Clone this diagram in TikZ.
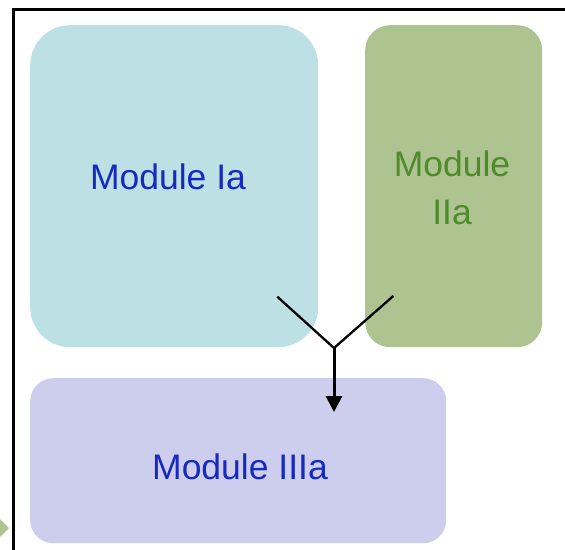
\documentclass[tikz,border=0pt]{standalone}
\usepackage{fontspec}
\setmainfont{Liberation Sans}
\usetikzlibrary{arrows.meta}
\definecolor{boxteal}{RGB}{188,224,227}
\definecolor{boxgreen}{RGB}{173,196,144}
\definecolor{boxlav}{RGB}{205,206,237}
\definecolor{textblue}{RGB}{22,42,192}
\definecolor{textgreen}{RGB}{79,138,43}

\begin{document}
\begin{tikzpicture}[x=1pt,y=-1pt,
    modbox/.style={rectangle,inner sep=0pt,anchor=north west},
    modtext/.style={font=\fontsize{35.5}{48}\selectfont,align=center,inner sep=0pt}]
    \useasboundingbox (0,0) rectangle (565,549);
    \clip (0,0) rectangle (565,549);
    % frame and marker
    \draw[line width=3.4pt] (13.5,560)--(13.5,9.7)--(580,9.7);
    \fill[boxgreen] (-2,517)--(9,528)--(-2,539)--cycle;
    % module boxes
    \node[modbox,fill=boxteal,rounded corners=40pt,minimum width=288pt,minimum height=322pt] (Ia) at (30,25) {};
    \node[modbox,fill=boxgreen,rounded corners=25pt,minimum width=177pt,minimum height=322pt] (IIa) at (365,25) {};
    \node[modbox,fill=boxlav,rounded corners=23pt,minimum width=416pt,minimum height=165pt] (IIIa) at (30,378) {};
    \node[modtext,text=textblue] (tIa) at (168,177) {Module Ia};
    \node[modtext,text=textgreen] (tIIa) at (452,188) {Module\\IIa};
    \node[modtext,text=textblue] (tIIIa) at (240,467) {Module IIIa};
    % merge connector
    \coordinate (ja) at (277.3,296.7);
    \coordinate (jb) at (393.3,296);
    \coordinate (jm) at (334,348);
    \coordinate (tip) at (334,412);
    \draw[line width=2.3pt] (ja)--(jm)--(jb);
    \draw[line width=3pt,-{Triangle[width=16pt,length=16pt]}] (jm)--(tip);
\end{tikzpicture}
\end{document}
